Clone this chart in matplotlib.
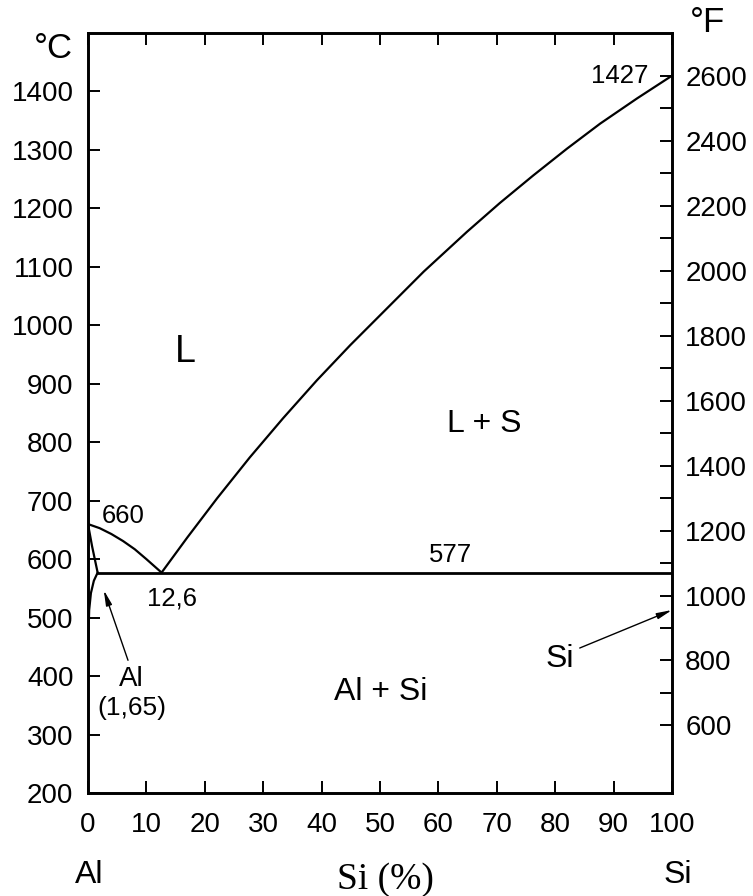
import matplotlib.pyplot as plt
from matplotlib.ticker import FixedLocator

plt.rcParams['font.family'] = ['Liberation Sans', 'DejaVu Sans']

# liquidus do lado do Al (660 -> eutetico)
liq_al_x = [0, 2, 4, 6, 8, 10, 12.6]
liq_al_t = [660, 653, 643, 631, 617, 600, 577]

# liquidus do lado do Si (eutetico -> 1427)
liq_si_x = [12.6, 17.0, 22.1, 27.7, 33.4, 39.2, 44.9, 50.5, 57.5, 64.9, 70.5, 76.2, 82.0, 87.7, 94.0, 100]
liq_si_t = [577, 637, 704, 774, 841, 906, 966, 1022, 1092, 1160, 1209, 1256, 1302, 1345, 1388, 1427]

# solidus e solvus da fase Al
sol_x = [0, 0.7, 1.65]
sol_t = [660, 622, 577]
solvus_x = [1.65, 1.0, 0.5, 0.2, 0.08, 0.02]
solvus_t = [577, 563, 542, 513, 470, 400]

# linha eutetica
eut_t = 577
eut_x = [1.65, 100]

c_ticks = [200, 300, 400, 500, 600, 700, 800, 900, 1000, 1100, 1200, 1300, 1400]
f_major = [600, 800, 1000, 1200, 1400, 1600, 1800, 2000, 2200, 2400, 2600]
f_minor = [700, 900, 1100, 1300, 1500, 1700, 1900, 2100, 2300, 2500]
x_ticks = [0, 10, 20, 30, 40, 50, 60, 70, 80, 90, 100]

W, H = 753, 896
fig = plt.figure(figsize=(W / 100, H / 100), dpi=100)
ax = fig.add_axes([88 / W, 1 - 793 / H, (672 - 88) / W, (793 - 33) / H])

lw = 1.6
ax.plot(liq_al_x, liq_al_t, color='black', lw=lw)
ax.plot(liq_si_x, liq_si_t, color='black', lw=lw)
ax.plot(sol_x, sol_t, color='black', lw=lw)
ax.plot(solvus_x, solvus_t, color='black', lw=lw)
ax.plot(eut_x, [eut_t, eut_t], color='black', lw=2.0)

ax.set_xlim(0, 100)
ax.set_ylim(200, 1500)

for s in ax.spines.values():
    s.set_linewidth(1.9)

fs = 20
ax.set_xticks(x_ticks)
ax.set_yticks(c_ticks)
ax.tick_params(axis='both', direction='in', length=8.8, width=1.4, labelsize=fs)
ax.tick_params(axis='y', pad=10.5)
ax.tick_params(axis='x', pad=14, top=True)

# escala em Fahrenheit
ax2 = ax.twinx()
ax2.set_ylim(200 * 1.8 + 32, 1500 * 1.8 + 32)
ax2.yaxis.set_major_locator(FixedLocator(f_major))
ax2.yaxis.set_minor_locator(FixedLocator(f_minor))
ax2.tick_params(axis='y', which='both', direction='in', length=8.8, width=1.4,
                labelsize=fs, pad=9.5)
for s in ax2.spines.values():
    s.set_linewidth(1.9)

# rotulos internos
nfs = 18.5
ax.text(6.0, 661, '660', fontsize=nfs, ha='center', va='baseline')
ax.text(14.4, 521, '12,6', fontsize=nfs, ha='center', va='baseline')
ax.text(62.0, 595, '577', fontsize=nfs, ha='center', va='baseline')
ax.text(95.9, 1414, '1427', fontsize=nfs, ha='right', va='baseline')
ax.text(16.6, 937, 'L', fontsize=27, ha='center', va='baseline')
ax.text(67.8, 817, 'L + S', fontsize=23, ha='center', va='baseline')
ax.text(50.2, 359, 'Al + Si', fontsize=23, ha='center', va='baseline')
ax.text(7.4, 383, 'Al', fontsize=20, ha='center', va='baseline')
ax.text(7.5, 334, '(1,65)', fontsize=19, ha='center', va='baseline')

arrow = dict(arrowstyle='-|>,head_length=0.9,head_width=0.18', color='black',
             lw=1.0, shrinkA=0, shrinkB=0)
ax.annotate('', xy=(2.7, 547), xytext=(6.85, 427), arrowprops=arrow)
ax.annotate('', xy=(100, 513), xytext=(84.2, 448), arrowprops=arrow)
ax.text(80.8, 415, 'Si', fontsize=23, ha='center', va='baseline')

# rotulos externos
fig.text(53 / W, 1 - 58 / H, '°C', fontsize=25, ha='center', va='baseline')
fig.text(708 / W, 1 - 32 / H, '°F', fontsize=25, ha='center', va='baseline')
fig.text(89 / W, 1 - 883 / H, 'Al', fontsize=23, ha='center', va='baseline')
fig.text(678 / W, 1 - 883 / H, 'Si', fontsize=23, ha='center', va='baseline')
fig.text(385 / W, 1 - 889 / H, 'Si (%)', fontsize=27, ha='center', va='baseline',
         family='Liberation Serif')

fig.savefig('out.png', dpi=100)
